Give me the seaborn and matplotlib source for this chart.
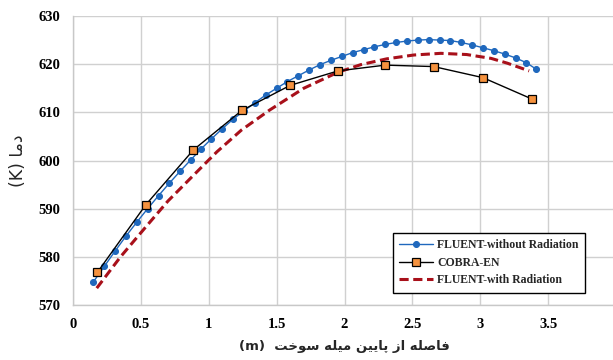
import matplotlib
matplotlib.use("Agg")
import matplotlib.pyplot as plt
import seaborn as sns
import pandas as pd

# ---------------- data ----------------
x_fluent_norad = [0.15, 0.23, 0.31, 0.39, 0.47, 0.55, 0.63, 0.71, 0.79, 0.87,
                  0.94, 1.02, 1.10, 1.18, 1.26, 1.34, 1.42, 1.50, 1.58, 1.66,
                  1.74, 1.82, 1.90, 1.98, 2.06, 2.14, 2.22, 2.30, 2.38, 2.46,
                  2.54, 2.62, 2.70, 2.78, 2.86, 2.94, 3.02, 3.10, 3.18, 3.26,
                  3.34, 3.41]
y_fluent_norad = [574.8, 578.0, 581.2, 584.3, 587.2, 590.0, 592.7, 595.3, 597.8, 600.2,
                  602.3, 604.5, 606.6, 608.6, 610.3, 612.0, 613.6, 615.0, 616.4, 617.6,
                  618.8, 619.9, 620.8, 621.6, 622.4, 623.0, 623.6, 624.1, 624.5, 624.8,
                  625.0, 625.1, 625.0, 624.9, 624.5, 624.0, 623.4, 622.8, 622.1, 621.3,
                  620.3, 619.0]

x_cobra = [0.18, 0.536, 0.887, 1.244, 1.60, 1.952, 2.30, 2.657, 3.02, 3.378]
y_cobra = [576.8, 590.8, 602.2, 610.4, 615.6, 618.6, 619.8, 619.5, 617.2, 612.8]

x_fluent_rad = [0.175, 0.35, 0.536, 0.70, 0.89, 1.06, 1.24, 1.45, 1.70, 1.95,
                2.12, 2.31, 2.51, 2.71, 2.90, 3.08, 3.20, 3.36]
y_fluent_rad = [573.5, 580.0, 586.2, 591.6, 597.0, 601.8, 606.3, 610.5, 615.0, 618.3,
                619.9, 621.1, 621.9, 622.25, 622.0, 621.2, 620.2, 618.6]

series_names = ["FLUENT-without Radiation", "COBRA-EN", "FLUENT-with Radiation"]
x_ticks = [0, 0.5, 1, 1.5, 2, 2.5, 3, 3.5, 4]
x_tick_labels = ["0", "0.5", "1", "1.5", "2", "2.5", "3", "3.5", "4"]
y_ticks = [570, 580, 590, 600, 610, 620, 630]
x_label_fa = "فاصله از پایین میله سوخت"
y_label_fa = "دما"

# ------------- simple Persian shaping (matplotlib has no complex text layout) -------------
FORMS = {
    'ا': ('\uFE8D', '\uFE8E', None, None),
    'د': ('\uFEA9', '\uFEAA', None, None),
    'ز': ('\uFEAF', '\uFEB0', None, None),
    'و': ('\uFEED', '\uFEEE', None, None),
    'ف': ('\uFED1', '\uFED2', '\uFED3', '\uFED4'),
    'ص': ('\uFEB9', '\uFEBA', '\uFEBB', '\uFEBC'),
    'ل': ('\uFEDD', '\uFEDE', '\uFEDF', '\uFEE0'),
    'ه': ('\uFEE9', '\uFEEA', '\uFEEB', '\uFEEC'),
    'پ': ('\uFB56', '\uFB57', '\uFB58', '\uFB59'),
    'ی': ('\uFBFC', '\uFBFD', '\uFBFE', '\uFBFF'),
    'ن': ('\uFEE5', '\uFEE6', '\uFEE7', '\uFEE8'),
    'م': ('\uFEE1', '\uFEE2', '\uFEE3', '\uFEE4'),
    'س': ('\uFEB1', '\uFEB2', '\uFEB3', '\uFEB4'),
    'خ': ('\uFEA5', '\uFEA6', '\uFEA7', '\uFEA8'),
    'ت': ('\uFE95', '\uFE96', '\uFE97', '\uFE98'),
}


def shape_rtl(text):
    out = []
    n = len(text)
    for i, ch in enumerate(text):
        if ch not in FORMS:
            out.append(ch)
            continue
        iso, fin, ini, med = FORMS[ch]
        prev = text[i - 1] if i > 0 else None
        nxt = text[i + 1] if i < n - 1 else None
        join_prev = prev in FORMS and FORMS[prev][2] is not None
        join_next = nxt in FORMS and ini is not None
        if join_prev and join_next:
            out.append(med)
        elif join_prev:
            out.append(fin)
        elif join_next:
            out.append(ini)
        else:
            out.append(iso)
    return "".join(reversed(out))


# ---------------- plot ----------------
sns.set_theme(style="whitegrid")
plt.rcParams['font.family'] = ['Liberation Serif', 'DejaVu Serif']

df_a = pd.DataFrame({"x": x_fluent_norad, "y": y_fluent_norad})
df_b = pd.DataFrame({"x": x_cobra, "y": y_cobra})
df_c = pd.DataFrame({"x": x_fluent_rad, "y": y_fluent_rad})

fig = plt.figure(figsize=(6.13, 3.6), dpi=100)
ax = fig.add_axes([73 / 613, 55 / 360, 543 / 613, 289 / 360])

blue = "#1f68bd"
sns.lineplot(data=df_a, x="x", y="y", ax=ax, color=blue, linewidth=1.0,
             marker="o", markersize=4.3, markeredgecolor=blue, markerfacecolor=blue,
             label=series_names[0], sort=False, zorder=3)
sns.lineplot(data=df_b, x="x", y="y", ax=ax, color="black", linewidth=1.0,
             marker="s", markersize=5.5, markeredgecolor="black", markeredgewidth=0.9,
             markerfacecolor="#f5923e", label=series_names[1], sort=False, zorder=4)
sns.lineplot(data=df_c, x="x", y="y", ax=ax, color="#a8101a", linewidth=2.2,
             dashes=False, label=series_names[2], sort=False, zorder=2)
ax.lines[-1].set_linestyle((0, (3.0, 1.5)))

ax.set_xlim(0, 4)
ax.set_ylim(570, 630)
ax.set_xticks(x_ticks)
ax.set_xticklabels(x_tick_labels)
ax.set_yticks(y_ticks)
ax.grid(True, color="#d0d0d0", linewidth=1.0)
for s in ["top", "right"]:
    ax.spines[s].set_visible(False)
for s in ["left", "bottom"]:
    ax.spines[s].set_color("#c8c8c8")
    ax.spines[s].set_linewidth(1.0)

ax.tick_params(axis="both", length=0, labelsize=10.5, colors="black")
ax.tick_params(axis="x", pad=9)
ax.tick_params(axis="y", pad=9)
for lab in ax.get_xticklabels() + ax.get_yticklabels():
    lab.set_fontweight("bold")

ax.set_xlabel("(m)  " + shape_rtl(x_label_fa), family=["DejaVu Sans"],
              fontweight="bold", fontsize=9.5, labelpad=7)
ax.set_ylabel("(K) " + shape_rtl(y_label_fa), family=["DejaVu Sans"],
              fontsize=12.5, labelpad=8)

leg = ax.legend(loc="upper left", bbox_to_anchor=(393 / 613, 1 - 233 / 360),
                bbox_transform=fig.transFigure, borderaxespad=0,
                frameon=True, fancybox=False, framealpha=1,
                prop={"family": "Liberation Serif", "weight": "bold", "size": 8.5},
                handlelength=2.8, labelspacing=0.45, borderpad=0.55, handletextpad=0.4)
leg.get_frame().set_edgecolor("black")
leg.get_frame().set_linewidth(1.0)

fig.savefig("out.png", dpi=100)
